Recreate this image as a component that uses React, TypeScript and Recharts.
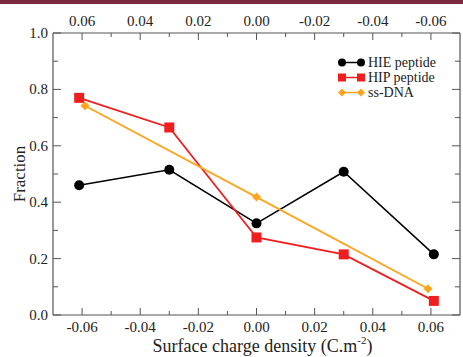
import { LineChart, Line, XAxis, YAxis, Legend, Label } from 'recharts';

// values
const hieX = [-0.061, -0.03, 0.0, 0.03, 0.061];
const hieY = [0.46, 0.515, 0.325, 0.508, 0.215];
const hipX = [-0.061, -0.03, 0.0, 0.03, 0.061];
const hipY = [0.77, 0.665, 0.275, 0.215, 0.05];
const dnaX = [-0.059, 0.0, 0.059];
const dnaY = [0.742, 0.418, 0.093];

const xTicks = [-0.06, -0.05, -0.04, -0.03, -0.02, -0.01, 0, 0.01, 0.02, 0.03, 0.04, 0.05, 0.06];
const yTicks = [0, 0.1, 0.2, 0.3, 0.4, 0.5, 0.6, 0.7, 0.8, 0.9, 1.0];

const hieData = hieX.map((x, i) => ({ x, y: hieY[i] }));
const hipData = hipX.map((x, i) => ({ x, y: hipY[i] }));
const dnaData = dnaX.map((x, i) => ({ x, y: dnaY[i] }));

const FONT = '"Liberation Serif", "Times New Roman", serif';
const AXIS = '#555';
const TEXT = '#222';
const BLACK = '#000000';
const RED = '#f01e1e';
const ORANGE = '#ffa41c';

const isMajorX = (v: number) => Math.round(v * 100) % 2 === 0;
const isMajorY = (v: number) => Math.round(v * 10) % 2 === 0;

const tickText = { fontFamily: FONT, fontSize: 15, fill: TEXT };

function BottomTick({ x, y, payload }: any) {
  const major = isMajorX(payload.value);
  return (
    <g>
      <line x1={x} x2={x} y1={y} y2={y - (major ? 7 : 4)} stroke={AXIS} />
      {major && (
        <text x={x} y={y + 17} textAnchor="middle" style={tickText}>
          {payload.value.toFixed(2)}
        </text>
      )}
    </g>
  );
}

function TopTick({ x, y, payload }: any) {
  const major = isMajorX(payload.value);
  return (
    <g>
      <line x1={x} x2={x} y1={y} y2={y + (major ? 7 : 4)} stroke={AXIS} />
      {major && (
        <text x={x} y={y - 7} textAnchor="middle" style={tickText}>
          {payload.value.toFixed(2)}
        </text>
      )}
    </g>
  );
}

function LeftTick({ x, y, payload }: any) {
  const major = isMajorY(payload.value);
  return (
    <g>
      <line x1={x} x2={x + (major ? 8 : 5)} y1={y} y2={y} stroke={AXIS} />
      {major && (
        <text x={x - 5} y={y + 5} textAnchor="end" style={tickText}>
          {payload.value.toFixed(1)}
        </text>
      )}
    </g>
  );
}

function RightTick({ x, y, payload }: any) {
  const major = isMajorY(payload.value);
  return <line x1={x} x2={x - (major ? 8 : 5)} y1={y} y2={y} stroke={AXIS} />;
}

function marker(kind: string, cx: number, cy: number, color: string, size: number, key?: any) {
  if (kind === 'square') {
    return <rect key={key} x={cx - size} y={cy - size} width={size * 2} height={size * 2} fill={color} />;
  }
  if (kind === 'diamond') {
    return (
      <polygon
        key={key}
        points={`${cx},${cy - size} ${cx + size},${cy} ${cx},${cy + size} ${cx - size},${cy}`}
        fill={color}
      />
    );
  }
  return <circle key={key} cx={cx} cy={cy} r={size} fill={color} />;
}

const shapes: Record<string, string> = {
  'HIE peptide': 'circle',
  'HIP peptide': 'square',
  'ss-DNA': 'diamond',
};

function XTitle({ viewBox }: any) {
  const cx = viewBox.x + viewBox.width / 2 + 6;
  const by = viewBox.y + viewBox.height - 5;
  return (
    <text x={cx} y={by} textAnchor="middle" style={{ fontFamily: FONT, fontSize: 18, fill: TEXT }}>
      Surface charge density (C.m
      <tspan dy={-8} style={{ fontSize: 11 }}>-2</tspan>
      <tspan dy={8}>)</tspan>
    </text>
  );
}

function LegendBox({ payload }: any) {
  return (
    <div style={{ fontFamily: FONT, fontSize: 14, color: TEXT }}>
      {(payload || []).map((entry: any) => {
        const kind = shapes[entry.value] || 'circle';
        return (
          <div key={entry.value} style={{ display: 'flex', alignItems: 'center', height: 15 }}>
            <svg width={30} height={15}>
              <line x1={7} x2={26} y1={7.5} y2={7.5} stroke={entry.color} strokeWidth={1.5} />
              {marker(kind, 7, 7.5, entry.color, 4)}
              {marker(kind, 26, 7.5, entry.color, 4)}
            </svg>
            <span style={{ marginLeft: 3, lineHeight: '15px' }}>{entry.value}</span>
          </div>
        );
      })}
    </div>
  );
}

export default function App() {
  return (
    <div style={{ position: 'absolute', left: 0, top: 0, width: 463, height: 357, background: '#fff' }}>
      <div style={{ position: 'absolute', left: 0, top: 0, width: 463, height: 4, background: '#7b2b40', zIndex: 2 }} />
      <LineChart width={463} height={357} data={hieData} margin={{ top: 5, right: 0, bottom: 0, left: 8 }}>
        <XAxis
          xAxisId="bottom"
          dataKey="x"
          type="number"
          domain={[-0.07, 0.07]}
          allowDataOverflow
          ticks={xTicks}
          interval={0}
          height={42}
          tickSize={0}
          tickMargin={0}
          tickLine={false}
          axisLine={{ stroke: AXIS, strokeWidth: 1.2 }}
          tick={<BottomTick />}
        >
          <Label content={<XTitle />} />
        </XAxis>
        <XAxis
          xAxisId="top"
          dataKey="x"
          orientation="top"
          type="number"
          domain={[-0.07, 0.07]}
          allowDataOverflow
          reversed
          ticks={xTicks}
          interval={0}
          height={28}
          tickSize={0}
          tickMargin={0}
          tickLine={false}
          axisLine={{ stroke: AXIS, strokeWidth: 1.2 }}
          tick={<TopTick />}
        />
        <YAxis
          yAxisId="left"
          type="number"
          domain={[0, 1]}
          allowDataOverflow
          ticks={yTicks}
          interval={0}
          width={45}
          tickSize={0}
          tickMargin={0}
          tickLine={false}
          axisLine={{ stroke: AXIS, strokeWidth: 1.2 }}
          tick={<LeftTick />}
        >
          <Label
            value="Fraction"
            angle={-90}
            position="center"
            dx={-12}
            style={{ fontSize: 17, fontFamily: FONT, fill: TEXT }}
          />
        </YAxis>
        <YAxis
          yAxisId="right"
          dataKey="y"
          orientation="right"
          type="number"
          domain={[0, 1]}
          allowDataOverflow
          ticks={yTicks}
          interval={0}
          width={3}
          tickSize={0}
          tickMargin={0}
          tickLine={false}
          axisLine={{ stroke: AXIS, strokeWidth: 1.2 }}
          tick={<RightTick />}
        />
        <Legend
          layout="vertical"
          align="center"
          verticalAlign="middle"
          wrapperStyle={{ left: 335, top: 55, width: 125, height: 48 }}
          content={<LegendBox />}
        />
        <Line
          name="HIE peptide"
          data={hieData}
          dataKey="y"
          xAxisId="bottom"
          yAxisId="left"
          stroke={BLACK}
          strokeWidth={1.5}
          dot={(p: any) => marker('circle', p.cx, p.cy, BLACK, 5, p.key ?? p.index)}
          isAnimationActive={false}
        />
        <Line
          name="HIP peptide"
          data={hipData}
          dataKey="y"
          xAxisId="bottom"
          yAxisId="left"
          stroke={RED}
          strokeWidth={1.8}
          dot={(p: any) => marker('square', p.cx, p.cy, RED, 5, p.key ?? p.index)}
          isAnimationActive={false}
        />
        <Line
          name="ss-DNA"
          data={dnaData}
          dataKey="y"
          xAxisId="bottom"
          yAxisId="left"
          stroke={ORANGE}
          strokeWidth={1.8}
          dot={(p: any) => marker('diamond', p.cx, p.cy, ORANGE, 4.5, p.key ?? p.index)}
          isAnimationActive={false}
        />
      </LineChart>
    </div>
  );
}
